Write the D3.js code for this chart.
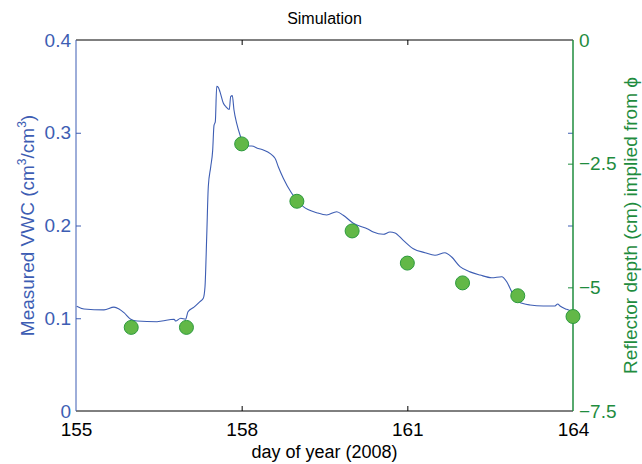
<!DOCTYPE html>
<html>
<head>
<meta charset="utf-8">
<script src="https://cdn.jsdelivr.net/npm/d3@7"></script>
<style>
body{margin:0;background:#fff;}
text{font-family:"Liberation Sans",Arial,sans-serif;}
</style>
</head>
<body>
<div id="chart"></div>
<script>
// VWC trace (day, value)
var days = [155.013,155.145,155.507,155.688,155.779,155.869,155.991,156.105,156.467,156.557,156.775,156.805,156.896,156.986,157.028,157.137,157.245,157.305,157.336,157.367,157.396,157.439,157.475,157.499,157.523,157.548,157.577,157.608,157.667,157.716,157.776,157.801,157.830,157.861,157.910,157.970,158.060,158.182,158.301,158.392,158.604,158.663,158.754,158.906,159.116,159.359,159.540,159.721,159.840,160.022,160.293,160.384,160.565,160.686,160.777,160.927,161.108,161.320,161.501,161.682,161.803,161.954,162.135,162.316,162.528,162.709,162.800,162.890,163.010,163.222,163.462,163.674,163.723,163.765,163.886,164.0];
var vwc = [0.113,0.110,0.109,0.112,0.110,0.106,0.099,0.097,0.0963,0.097,0.099,0.097,0.100,0.099,0.107,0.112,0.118,0.1215,0.134,0.188,0.242,0.263,0.281,0.308,0.312,0.350,0.349,0.344,0.332,0.328,0.325,0.339,0.340,0.3245,0.310,0.2976,0.2857,0.2857,0.283,0.2814,0.2725,0.2634,0.251,0.2347,0.2203,0.2138,0.2113,0.2149,0.211,0.2024,0.196,0.193,0.1905,0.193,0.192,0.184,0.175,0.1707,0.168,0.1707,0.166,0.1556,0.150,0.1466,0.1437,0.1448,0.1394,0.1286,0.1178,0.1143,0.1132,0.1132,0.1154,0.1132,0.1096,0.107];

// reflector depth points
var dotDays = [156,157,158,159,160,161,162,163,164];
var depth = [-5.81,-5.81,-2.10,-3.26,-3.86,-4.51,-4.91,-5.17,-5.59];

var xTicks = [155,158,161,164];
var leftTicks = [0,0.1,0.2,0.3,0.4];
var rightTicks = [0,-2.5,-5,-7.5];

var W = 642, H = 464;
var m = {l:76, r:69, t:40, b:53};
var blue = "#3d5db3", green = "#1f8c3e";

var svg = d3.select("#chart").append("svg")
	.attr("width", W).attr("height", H);

var x = d3.scaleLinear().domain([155,164]).range([m.l, W-m.r]);
var yL = d3.scaleLinear().domain([0,0.4]).range([H-m.b, m.t]);
var yR = d3.scaleLinear().domain([-7.5,0]).range([H-m.b, m.t]);

var x0 = m.l, x1 = W-m.r, y0 = H-m.b, y1 = m.t;

// bottom axis
var gB = svg.append("g").attr("transform","translate(0,"+y0+")")
	.call(d3.axisBottom(x).tickValues(xTicks).tickSize(-5).tickPadding(12).tickFormat(d3.format("d")));
gB.select(".domain").remove();
gB.selectAll("line").attr("stroke","#000");
gB.selectAll("text").attr("font-size",19).attr("fill","#000");
gB.selectAll(".tick").filter(function(d){return d==155||d==164}).select("line").remove();

// top ticks
var gT = svg.append("g").attr("transform","translate(0,"+y1+")")
	.call(d3.axisTop(x).tickValues([158,161]).tickSize(-5).tickFormat(""));
gT.select(".domain").remove();
gT.selectAll("line").attr("stroke","#000");

// left axis
var gL = svg.append("g").attr("transform","translate("+x0+",0)")
	.call(d3.axisLeft(yL).tickValues(leftTicks).tickSize(-5).tickPadding(5).tickFormat(function(d){return d==0?"0":d3.format(".1f")(d)}));
gL.select(".domain").remove();
gL.selectAll("line").attr("stroke",blue);
gL.selectAll("text").attr("font-size",19).attr("fill",blue);
gL.selectAll(".tick").filter(function(d){return d==0||d==0.4}).select("line").remove();

// mirrored blue ticks on right
var gL2 = svg.append("g").attr("transform","translate("+x1+",0)")
	.call(d3.axisRight(yL).tickValues([0.1,0.2,0.3]).tickSize(-5).tickFormat(""));
gL2.select(".domain").remove();
gL2.selectAll("line").attr("stroke",blue);

// right axis
var gR = svg.append("g").attr("transform","translate("+x1+",0)")
	.call(d3.axisRight(yR).tickValues(rightTicks).tickSize(-5).tickPadding(6).tickFormat(function(d){return d==0?"0":String(d).replace("-","\u2212")}));
gR.select(".domain").remove();
gR.selectAll("line").attr("stroke",green);
gR.selectAll("text").attr("font-size",19).attr("fill",green);
gR.selectAll(".tick").filter(function(d){return d==0||d==-7.5}).select("line").remove();

// frame
svg.append("line").attr("x1",x0).attr("x2",x1).attr("y1",y1).attr("y2",y1).attr("stroke","#000");
svg.append("line").attr("x1",x0).attr("x2",x1).attr("y1",y0).attr("y2",y0).attr("stroke","#000");
svg.append("line").attr("x1",x0).attr("x2",x0).attr("y1",y1).attr("y2",y0).attr("stroke",blue);
svg.append("line").attr("x1",x1).attr("x2",x1).attr("y1",y1).attr("y2",y0).attr("stroke",green).attr("stroke-width",1.5);

// VWC line
var pts = days.map(function(d,i){return [d,vwc[i]]});
svg.append("path").datum(pts)
	.attr("d", d3.line().x(d=>x(d[0])).y(d=>yL(d[1])).curve(d3.curveMonotoneX))
	.attr("fill","none").attr("stroke",blue).attr("stroke-width",1.1);

// dots
svg.selectAll("circle.dot").data(dotDays).enter().append("circle")
	.attr("class","dot")
	.attr("cx", d=>x(d))
	.attr("cy", (d,i)=>yR(depth[i]))
	.attr("r", 7)
	.attr("fill","#62b847").attr("stroke","#2c9a3e").attr("stroke-width",1);

// title + labels
svg.append("text").attr("x",(x0+x1)/2).attr("y",24).attr("text-anchor","middle")
	.attr("font-size",16).attr("fill","#000").text("Simulation");

svg.append("text").attr("x",(x0+x1)/2).attr("y",458).attr("text-anchor","middle")
	.attr("font-size",18).attr("fill","#000").text("day of year (2008)");

var lt = svg.append("text").attr("transform","translate(34,"+((y0+y1)/2)+") rotate(-90)")
	.attr("text-anchor","middle").attr("font-size",19).attr("fill",blue);
lt.append("tspan").text("Measured VWC (cm");
lt.append("tspan").attr("font-size",12).attr("dy",-8).text("3");
lt.append("tspan").attr("dy",8).text("/cm");
lt.append("tspan").attr("font-size",12).attr("dy",-8).text("3");
lt.append("tspan").attr("dy",8).text(")");

svg.append("text").attr("transform","translate(637,"+((y0+y1)/2)+") rotate(-90)")
	.attr("text-anchor","middle").attr("font-size",19).attr("fill",green)
	.text("Reflector depth (cm) implied from \u03d5");
</script>
</body>
</html>
